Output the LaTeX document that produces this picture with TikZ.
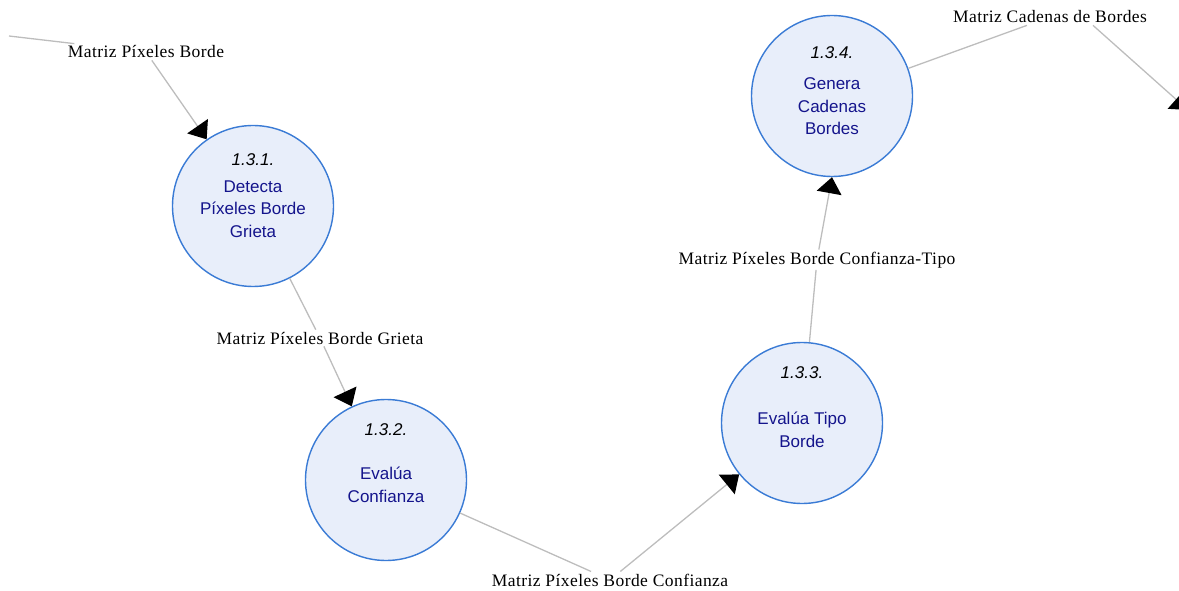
\documentclass[tikz,border=0pt]{standalone}
\usepackage{fontspec}
\setmainfont{Liberation Serif}[LetterSpace=2.5]
\newfontfamily\procfont{Liberation Sans}
\usetikzlibrary{arrows.meta}

\definecolor{procfill}{HTML}{E8EEFA}
\definecolor{procedge}{HTML}{3A7BD5}
\definecolor{proctext}{HTML}{14148C}
\definecolor{flowline}{HTML}{BDBDBD}

\tikzset{
  proc/.style={circle, draw=procedge, fill=procfill, line width=1.4pt,
    minimum size=161pt, inner sep=0pt},
  pnum/.style={anchor=base, inner sep=0pt, text=black,
    font=\procfont\itshape\fontsize{17}{20}\selectfont},
  % multi-line titles: the base anchor sits on the last line
  ptitle/.style={anchor=base, align=center, inner sep=0pt, text=proctext,
    font=\procfont\fontsize{17}{22.5}\selectfont},
  flowlabel/.style={anchor=base, inner sep=2pt,
    font=\fontsize{17.5}{20}\selectfont},
  flow/.style={draw=flowline, line width=1.3pt,
    -{Triangle[length=16pt,width=25pt,color=black]}},
  flowin/.style={draw=flowline, line width=1.3pt},
}

\begin{document}
\begin{tikzpicture}[x=1pt,y=-1pt]
  \useasboundingbox (0,0) rectangle (1179,591);

  % processes
  \node[proc] (c1) at (253,206) {};
  \node[proc] (c2) at (386,480) {};
  \node[proc] (c3) at (802,423) {};
  \node[proc] (c4) at (832,96) {};

  \node[pnum]   (c1n) at (253,166) {1.3.1.};
  \node[ptitle] (c1t) at (253,237) {Detecta\\Píxeles Borde\\Grieta};
  \node[pnum]   (c2n) at (386,435) {1.3.2.};
  \node[ptitle] (c2t) at (386,502) {Evalúa\\Confianza};
  \node[pnum]   (c3n) at (802,378) {1.3.3.};
  \node[ptitle] (c3t) at (802,447) {Evalúa Tipo\\Borde};
  \node[pnum]   (c4n) at (832,59) {1.3.4.};
  \node[ptitle] (c4t) at (832,135) {Genera\\Cadenas\\Bordes};

  % data flow labels
  \node[flowlabel] (l0) at (146,58)  {Matriz Píxeles Borde};
  \node[flowlabel] (l1) at (320,344) {Matriz Píxeles Borde Grieta};
  \node[flowlabel] (l2) at (610,586) {Matriz Píxeles Borde Confianza};
  \node[flowlabel] (l3) at (817,264) {Matriz Píxeles Borde Confianza-Tipo};
  \node[flowlabel] (l4) at (1050,23) {Matriz Cadenas de Bordes};

  % external ends
  \coordinate (s0) at (9,36);
  \coordinate (e4) at (1188,110);

  % data flows
  \draw[flowin] (s0) -- (l0);
  \draw[flow]   (l0) -- (c1);
  \draw[flowin] (c1) -- (l1);
  \draw[flow]   (l1) -- (c2);
  \draw[flowin] (c2) -- (l2);
  \draw[flow]   (l2) -- (c3);
  \draw[flowin] (c3) -- (l3);
  \draw[flow]   (l3) -- (c4.south);
  \draw[flowin] (c4) -- (l4);
  \draw[flow]   (l4.-11) -- (e4);
\end{tikzpicture}
\end{document}
